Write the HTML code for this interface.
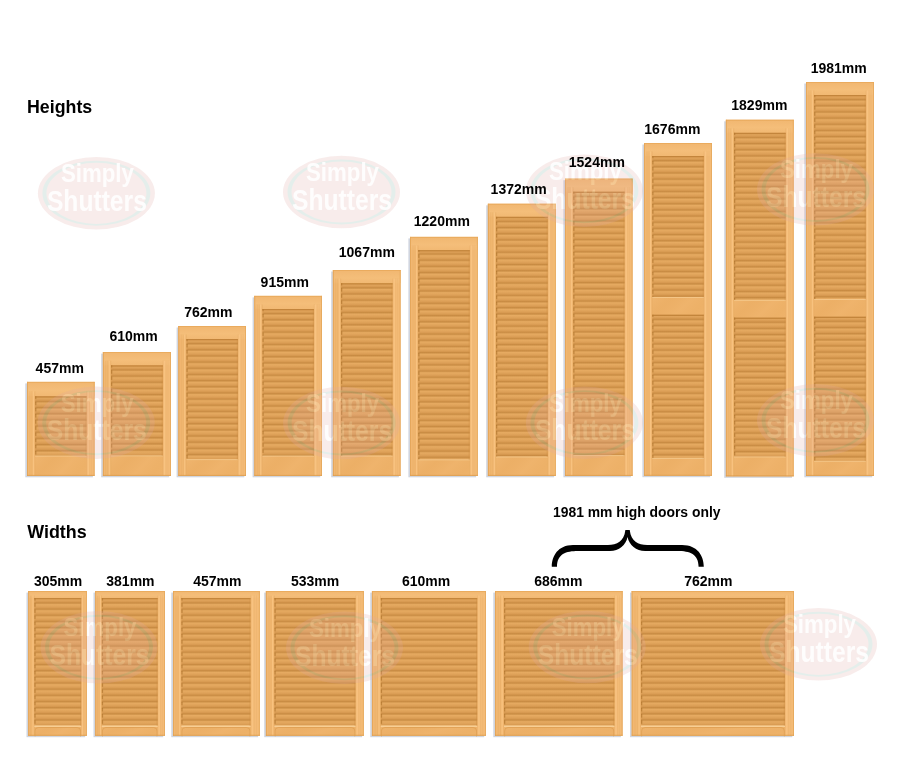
<!DOCTYPE html>
<html><head><meta charset="utf-8"><title>Shutter sizes</title>
<style>
html,body{margin:0;padding:0;background:#fff;}
body{width:902px;height:765px;overflow:hidden;font-family:"Liberation Sans",sans-serif;}
svg{display:block}
text{font-family:"Liberation Sans",sans-serif;font-weight:bold;fill:#000}
.l{font-size:14px}
.t{font-size:17.9px}
.wmt{fill:#fff;font-weight:bold;fill-opacity:0.88}
</style></head><body>
<svg width="902" height="765" viewBox="0 0 902 765">
<defs>
<filter id="bl" x="-10%" y="-10%" width="120%" height="120%"><feGaussianBlur stdDeviation="0.75"/></filter>
<filter id="wb" x="-5%" y="-5%" width="110%" height="110%"><feGaussianBlur stdDeviation="0.45"/></filter>
<linearGradient id="slat" x1="0" y1="0" x2="0" y2="1">
<stop offset="0" stop-color="#bb7e34"/><stop offset="0.1" stop-color="#dfa45c"/><stop offset="0.22" stop-color="#e6aa61"/><stop offset="0.6" stop-color="#dda058"/>
<stop offset="0.84" stop-color="#d3954c"/><stop offset="0.95" stop-color="#c68941"/><stop offset="1" stop-color="#bb7e34"/>
</linearGradient>
<pattern id="lv" x="0" y="-0.5" width="10" height="6.16" patternUnits="userSpaceOnUse"><rect width="10" height="6.16" fill="url(#slat)"/></pattern>
<pattern id="lvn" x="0" y="-0.5" width="10" height="6.16" patternUnits="userSpaceOnUse"><rect y="0" width="10" height="3.4" fill="#9c5f17" opacity="0.5"/></pattern>
<linearGradient id="grain" x1="0" y1="0" x2="1" y2="0.35" spreadMethod="reflect">
<stop offset="0" stop-color="#f0b670" stop-opacity="0.55"/><stop offset="0.35" stop-color="#e5a558" stop-opacity="0.35"/><stop offset="0.7" stop-color="#eeb26a" stop-opacity="0.5"/><stop offset="1" stop-color="#e8aa5e" stop-opacity="0.4"/>
</linearGradient>
<linearGradient id="railT" x1="0" y1="0" x2="0" y2="1">
<stop offset="0" stop-color="#f1b771" stop-opacity="0.9"/><stop offset="0.6" stop-color="#f5bf7b" stop-opacity="0.9"/><stop offset="1" stop-color="#f2ba75" stop-opacity="0.7"/>
</linearGradient>
<g id="wm">
<ellipse cx="0" cy="0" rx="58.5" ry="36.2" fill="#dfa9a4"/>
<path d="M-54,0a54,32.5 0 1 0 108,0a54,32.5 0 1 0 -108,0Z M-50,0a50,30.6 0 1 1 100,0a50,30.6 0 1 1 -100,0Z" fill="#86b3a3" fill-rule="evenodd"/>
<text class="wmt" x="0" y="-11" font-size="25.5" text-anchor="middle" textLength="73" lengthAdjust="spacingAndGlyphs" transform="translate(1,0)">Simply</text>
<text class="wmt" x="0" y="17.7" font-size="29.5" text-anchor="middle" textLength="100" lengthAdjust="spacingAndGlyphs" transform="translate(0.5,0)">Shutters</text>
</g>
</defs>
<rect width="902" height="765" fill="#fff"/>

<rect x="25.30" y="383.40" width="67.60" height="93.90" fill="#d0d5df" filter="url(#bl)"/>
<rect x="27.00" y="381.90" width="67.60" height="93.90" fill="#f0b56e"/>
<rect x="27.00" y="381.90" width="67.60" height="14.40" fill="url(#railT)"/>
<rect x="35.10" y="456.00" width="51.50" height="19.80" fill="url(#grain)"/>
<rect x="29.52" y="391.40" width="0.8" height="84.40" fill="#d89a4e" opacity="0.38"/>
<rect x="91.32" y="391.40" width="0.8" height="84.40" fill="#d89a4e" opacity="0.38"/>
<rect x="31.46" y="391.40" width="0.8" height="84.40" fill="#d89a4e" opacity="0.36"/>
<rect x="89.40" y="391.40" width="0.8" height="84.40" fill="#d89a4e" opacity="0.36"/>
<rect x="32.83" y="391.40" width="1.3" height="84.40" fill="#f9c684" opacity="0.85"/>
<rect x="87.55" y="391.40" width="1.3" height="84.40" fill="#f9c684" opacity="0.85"/>
<rect x="34.51" y="391.40" width="0.7" height="84.40" fill="#dfa257" opacity="0.5"/>
<rect x="86.49" y="391.40" width="0.7" height="84.40" fill="#dfa257" opacity="0.5"/>
<rect x="86.60" y="391.40" width="7.10" height="84.40" fill="#f8c483" opacity="0.45"/>
<rect x="27.90" y="391.40" width="7.20" height="84.40" fill="#f6bf7b" opacity="0.25"/>
<g transform="translate(35.10,402.30)">
<rect x="0" y="-6.00" width="51.50" height="59.70" fill="url(#lv)"/>
<rect x="0" y="-6.00" width="1.3" height="59.70" fill="url(#lvn)"/>
<rect x="0" y="-6.00" width="51.50" height="1.3" fill="#b87a30" opacity="0.75"/>
<rect x="0" y="53.30" width="51.50" height="0.9" fill="#f7cc90" opacity="0.9"/>
<rect x="50.30" y="-6.00" width="1.2" height="59.70" fill="#c98a3e" opacity="0.35"/>
</g>
<rect x="27.00" y="381.90" width="0.9" height="93.90" fill="#e2a355" opacity="0.9"/>
<rect x="93.70" y="381.90" width="0.9" height="93.90" fill="#e6a95c" opacity="0.9"/>
<rect x="27.00" y="381.90" width="67.60" height="0.9" fill="#e8a85a" opacity="0.9"/>
<rect x="27.00" y="474.90" width="67.60" height="0.9" fill="#de9c4a" opacity="0.9"/>
<rect x="101.20" y="353.60" width="68.00" height="123.70" fill="#d0d5df" filter="url(#bl)"/>
<rect x="102.90" y="352.10" width="68.00" height="123.70" fill="#f0b56e"/>
<rect x="102.90" y="352.10" width="68.00" height="13.20" fill="url(#railT)"/>
<rect x="111.00" y="455.80" width="51.90" height="20.00" fill="url(#grain)"/>
<rect x="105.42" y="360.81" width="0.8" height="114.99" fill="#d89a4e" opacity="0.38"/>
<rect x="167.62" y="360.81" width="0.8" height="114.99" fill="#d89a4e" opacity="0.38"/>
<rect x="107.36" y="360.81" width="0.8" height="114.99" fill="#d89a4e" opacity="0.36"/>
<rect x="165.70" y="360.81" width="0.8" height="114.99" fill="#d89a4e" opacity="0.36"/>
<rect x="108.73" y="360.81" width="1.3" height="114.99" fill="#f9c684" opacity="0.85"/>
<rect x="163.85" y="360.81" width="1.3" height="114.99" fill="#f9c684" opacity="0.85"/>
<rect x="110.41" y="360.81" width="0.7" height="114.99" fill="#dfa257" opacity="0.5"/>
<rect x="162.79" y="360.81" width="0.7" height="114.99" fill="#dfa257" opacity="0.5"/>
<rect x="162.90" y="360.81" width="7.10" height="114.99" fill="#f8c483" opacity="0.45"/>
<rect x="103.80" y="360.81" width="7.20" height="114.99" fill="#f6bf7b" opacity="0.25"/>
<g transform="translate(111.00,370.80)">
<rect x="0" y="-5.50" width="51.90" height="90.50" fill="url(#lv)"/>
<rect x="0" y="-5.50" width="1.3" height="90.50" fill="url(#lvn)"/>
<rect x="0" y="-5.50" width="51.90" height="1.3" fill="#b87a30" opacity="0.75"/>
<rect x="0" y="84.60" width="51.90" height="0.9" fill="#f7cc90" opacity="0.9"/>
<rect x="50.70" y="-5.50" width="1.2" height="90.50" fill="#c98a3e" opacity="0.35"/>
</g>
<rect x="102.90" y="352.10" width="0.9" height="123.70" fill="#e2a355" opacity="0.9"/>
<rect x="170.00" y="352.10" width="0.9" height="123.70" fill="#e6a95c" opacity="0.9"/>
<rect x="102.90" y="352.10" width="68.00" height="0.9" fill="#e8a85a" opacity="0.9"/>
<rect x="102.90" y="474.90" width="68.00" height="0.9" fill="#de9c4a" opacity="0.9"/>
<rect x="176.60" y="327.50" width="67.70" height="149.80" fill="#d0d5df" filter="url(#bl)"/>
<rect x="178.30" y="326.00" width="67.70" height="149.80" fill="#f0b56e"/>
<rect x="178.30" y="326.00" width="67.70" height="13.00" fill="url(#railT)"/>
<rect x="186.40" y="459.60" width="51.60" height="16.20" fill="url(#grain)"/>
<rect x="180.82" y="334.58" width="0.8" height="141.22" fill="#d89a4e" opacity="0.38"/>
<rect x="242.72" y="334.58" width="0.8" height="141.22" fill="#d89a4e" opacity="0.38"/>
<rect x="182.76" y="334.58" width="0.8" height="141.22" fill="#d89a4e" opacity="0.36"/>
<rect x="240.80" y="334.58" width="0.8" height="141.22" fill="#d89a4e" opacity="0.36"/>
<rect x="184.13" y="334.58" width="1.3" height="141.22" fill="#f9c684" opacity="0.85"/>
<rect x="238.95" y="334.58" width="1.3" height="141.22" fill="#f9c684" opacity="0.85"/>
<rect x="185.81" y="334.58" width="0.7" height="141.22" fill="#dfa257" opacity="0.5"/>
<rect x="237.89" y="334.58" width="0.7" height="141.22" fill="#dfa257" opacity="0.5"/>
<rect x="238.00" y="334.58" width="7.10" height="141.22" fill="#f8c483" opacity="0.45"/>
<rect x="179.20" y="334.58" width="7.20" height="141.22" fill="#f6bf7b" opacity="0.25"/>
<g transform="translate(186.40,344.50)">
<rect x="0" y="-5.50" width="51.60" height="120.60" fill="url(#lv)"/>
<rect x="0" y="-5.50" width="1.3" height="120.60" fill="url(#lvn)"/>
<rect x="0" y="-5.50" width="51.60" height="1.3" fill="#b87a30" opacity="0.75"/>
<rect x="0" y="114.70" width="51.60" height="0.9" fill="#f7cc90" opacity="0.9"/>
<rect x="50.40" y="-5.50" width="1.2" height="120.60" fill="#c98a3e" opacity="0.35"/>
</g>
<rect x="178.30" y="326.00" width="0.9" height="149.80" fill="#e2a355" opacity="0.9"/>
<rect x="245.10" y="326.00" width="0.9" height="149.80" fill="#e6a95c" opacity="0.9"/>
<rect x="178.30" y="326.00" width="67.70" height="0.9" fill="#e8a85a" opacity="0.9"/>
<rect x="178.30" y="474.90" width="67.70" height="0.9" fill="#de9c4a" opacity="0.9"/>
<rect x="252.60" y="297.40" width="67.70" height="179.90" fill="#d0d5df" filter="url(#bl)"/>
<rect x="254.30" y="295.90" width="67.70" height="179.90" fill="#f0b56e"/>
<rect x="254.30" y="295.90" width="67.70" height="13.10" fill="url(#railT)"/>
<rect x="262.40" y="456.00" width="51.60" height="19.80" fill="url(#grain)"/>
<rect x="256.82" y="304.55" width="0.8" height="171.25" fill="#d89a4e" opacity="0.38"/>
<rect x="318.72" y="304.55" width="0.8" height="171.25" fill="#d89a4e" opacity="0.38"/>
<rect x="258.76" y="304.55" width="0.8" height="171.25" fill="#d89a4e" opacity="0.36"/>
<rect x="316.80" y="304.55" width="0.8" height="171.25" fill="#d89a4e" opacity="0.36"/>
<rect x="260.13" y="304.55" width="1.3" height="171.25" fill="#f9c684" opacity="0.85"/>
<rect x="314.95" y="304.55" width="1.3" height="171.25" fill="#f9c684" opacity="0.85"/>
<rect x="261.81" y="304.55" width="0.7" height="171.25" fill="#dfa257" opacity="0.5"/>
<rect x="313.89" y="304.55" width="0.7" height="171.25" fill="#dfa257" opacity="0.5"/>
<rect x="314.00" y="304.55" width="7.10" height="171.25" fill="#f8c483" opacity="0.45"/>
<rect x="255.20" y="304.55" width="7.20" height="171.25" fill="#f6bf7b" opacity="0.25"/>
<g transform="translate(262.40,314.50)">
<rect x="0" y="-5.50" width="51.60" height="147.00" fill="url(#lv)"/>
<rect x="0" y="-5.50" width="1.3" height="147.00" fill="url(#lvn)"/>
<rect x="0" y="-5.50" width="51.60" height="1.3" fill="#b87a30" opacity="0.75"/>
<rect x="0" y="141.10" width="51.60" height="0.9" fill="#f7cc90" opacity="0.9"/>
<rect x="50.40" y="-5.50" width="1.2" height="147.00" fill="#c98a3e" opacity="0.35"/>
</g>
<rect x="254.30" y="295.90" width="0.9" height="179.90" fill="#e2a355" opacity="0.9"/>
<rect x="321.10" y="295.90" width="0.9" height="179.90" fill="#e6a95c" opacity="0.9"/>
<rect x="254.30" y="295.90" width="67.70" height="0.9" fill="#e8a85a" opacity="0.9"/>
<rect x="254.30" y="474.90" width="67.70" height="0.9" fill="#de9c4a" opacity="0.9"/>
<rect x="331.20" y="271.50" width="67.70" height="205.80" fill="#d0d5df" filter="url(#bl)"/>
<rect x="332.90" y="270.00" width="67.70" height="205.80" fill="#f0b56e"/>
<rect x="332.90" y="270.00" width="67.70" height="13.20" fill="url(#railT)"/>
<rect x="341.00" y="456.00" width="51.60" height="19.80" fill="url(#grain)"/>
<rect x="335.42" y="278.71" width="0.8" height="197.09" fill="#d89a4e" opacity="0.38"/>
<rect x="397.32" y="278.71" width="0.8" height="197.09" fill="#d89a4e" opacity="0.38"/>
<rect x="337.36" y="278.71" width="0.8" height="197.09" fill="#d89a4e" opacity="0.36"/>
<rect x="395.40" y="278.71" width="0.8" height="197.09" fill="#d89a4e" opacity="0.36"/>
<rect x="338.73" y="278.71" width="1.3" height="197.09" fill="#f9c684" opacity="0.85"/>
<rect x="393.55" y="278.71" width="1.3" height="197.09" fill="#f9c684" opacity="0.85"/>
<rect x="340.41" y="278.71" width="0.7" height="197.09" fill="#dfa257" opacity="0.5"/>
<rect x="392.49" y="278.71" width="0.7" height="197.09" fill="#dfa257" opacity="0.5"/>
<rect x="392.60" y="278.71" width="7.10" height="197.09" fill="#f8c483" opacity="0.45"/>
<rect x="333.80" y="278.71" width="7.20" height="197.09" fill="#f6bf7b" opacity="0.25"/>
<g transform="translate(341.00,288.70)">
<rect x="0" y="-5.50" width="51.60" height="172.80" fill="url(#lv)"/>
<rect x="0" y="-5.50" width="1.3" height="172.80" fill="url(#lvn)"/>
<rect x="0" y="-5.50" width="51.60" height="1.3" fill="#b87a30" opacity="0.75"/>
<rect x="0" y="166.90" width="51.60" height="0.9" fill="#f7cc90" opacity="0.9"/>
<rect x="50.40" y="-5.50" width="1.2" height="172.80" fill="#c98a3e" opacity="0.35"/>
</g>
<rect x="332.90" y="270.00" width="0.9" height="205.80" fill="#e2a355" opacity="0.9"/>
<rect x="399.70" y="270.00" width="0.9" height="205.80" fill="#e6a95c" opacity="0.9"/>
<rect x="332.90" y="270.00" width="67.70" height="0.9" fill="#e8a85a" opacity="0.9"/>
<rect x="332.90" y="474.90" width="67.70" height="0.9" fill="#de9c4a" opacity="0.9"/>
<rect x="408.40" y="238.40" width="67.70" height="238.90" fill="#d0d5df" filter="url(#bl)"/>
<rect x="410.10" y="236.90" width="67.70" height="238.90" fill="#f0b56e"/>
<rect x="410.10" y="236.90" width="67.70" height="13.20" fill="url(#railT)"/>
<rect x="418.20" y="459.80" width="51.60" height="16.00" fill="url(#grain)"/>
<rect x="412.62" y="245.61" width="0.8" height="230.19" fill="#d89a4e" opacity="0.38"/>
<rect x="474.52" y="245.61" width="0.8" height="230.19" fill="#d89a4e" opacity="0.38"/>
<rect x="414.56" y="245.61" width="0.8" height="230.19" fill="#d89a4e" opacity="0.36"/>
<rect x="472.60" y="245.61" width="0.8" height="230.19" fill="#d89a4e" opacity="0.36"/>
<rect x="415.93" y="245.61" width="1.3" height="230.19" fill="#f9c684" opacity="0.85"/>
<rect x="470.75" y="245.61" width="1.3" height="230.19" fill="#f9c684" opacity="0.85"/>
<rect x="417.61" y="245.61" width="0.7" height="230.19" fill="#dfa257" opacity="0.5"/>
<rect x="469.69" y="245.61" width="0.7" height="230.19" fill="#dfa257" opacity="0.5"/>
<rect x="469.80" y="245.61" width="7.10" height="230.19" fill="#f8c483" opacity="0.45"/>
<rect x="411.00" y="245.61" width="7.20" height="230.19" fill="#f6bf7b" opacity="0.25"/>
<g transform="translate(418.20,254.90)">
<rect x="0" y="-4.80" width="51.60" height="209.70" fill="url(#lv)"/>
<rect x="0" y="-4.80" width="1.3" height="209.70" fill="url(#lvn)"/>
<rect x="0" y="-4.80" width="51.60" height="1.3" fill="#b87a30" opacity="0.75"/>
<rect x="0" y="204.50" width="51.60" height="0.9" fill="#f7cc90" opacity="0.9"/>
<rect x="50.40" y="-4.80" width="1.2" height="209.70" fill="#c98a3e" opacity="0.35"/>
</g>
<rect x="410.10" y="236.90" width="0.9" height="238.90" fill="#e2a355" opacity="0.9"/>
<rect x="476.90" y="236.90" width="0.9" height="238.90" fill="#e6a95c" opacity="0.9"/>
<rect x="410.10" y="236.90" width="67.70" height="0.9" fill="#e8a85a" opacity="0.9"/>
<rect x="410.10" y="474.90" width="67.70" height="0.9" fill="#de9c4a" opacity="0.9"/>
<rect x="486.20" y="205.30" width="67.90" height="272.00" fill="#d0d5df" filter="url(#bl)"/>
<rect x="487.90" y="203.80" width="67.90" height="272.00" fill="#f0b56e"/>
<rect x="487.90" y="203.80" width="67.90" height="13.00" fill="url(#railT)"/>
<rect x="496.00" y="456.90" width="51.80" height="18.90" fill="url(#grain)"/>
<rect x="490.42" y="212.38" width="0.8" height="263.42" fill="#d89a4e" opacity="0.38"/>
<rect x="552.52" y="212.38" width="0.8" height="263.42" fill="#d89a4e" opacity="0.38"/>
<rect x="492.36" y="212.38" width="0.8" height="263.42" fill="#d89a4e" opacity="0.36"/>
<rect x="550.60" y="212.38" width="0.8" height="263.42" fill="#d89a4e" opacity="0.36"/>
<rect x="493.73" y="212.38" width="1.3" height="263.42" fill="#f9c684" opacity="0.85"/>
<rect x="548.75" y="212.38" width="1.3" height="263.42" fill="#f9c684" opacity="0.85"/>
<rect x="495.41" y="212.38" width="0.7" height="263.42" fill="#dfa257" opacity="0.5"/>
<rect x="547.69" y="212.38" width="0.7" height="263.42" fill="#dfa257" opacity="0.5"/>
<rect x="547.80" y="212.38" width="7.10" height="263.42" fill="#f8c483" opacity="0.45"/>
<rect x="488.80" y="212.38" width="7.20" height="263.42" fill="#f6bf7b" opacity="0.25"/>
<g transform="translate(496.00,222.30)">
<rect x="0" y="-5.50" width="51.80" height="240.10" fill="url(#lv)"/>
<rect x="0" y="-5.50" width="1.3" height="240.10" fill="url(#lvn)"/>
<rect x="0" y="-5.50" width="51.80" height="1.3" fill="#b87a30" opacity="0.75"/>
<rect x="0" y="234.20" width="51.80" height="0.9" fill="#f7cc90" opacity="0.9"/>
<rect x="50.60" y="-5.50" width="1.2" height="240.10" fill="#c98a3e" opacity="0.35"/>
</g>
<rect x="487.90" y="203.80" width="0.9" height="272.00" fill="#e2a355" opacity="0.9"/>
<rect x="554.90" y="203.80" width="0.9" height="272.00" fill="#e6a95c" opacity="0.9"/>
<rect x="487.90" y="203.80" width="67.90" height="0.9" fill="#e8a85a" opacity="0.9"/>
<rect x="487.90" y="474.90" width="67.90" height="0.9" fill="#de9c4a" opacity="0.9"/>
<rect x="563.40" y="180.20" width="67.50" height="297.10" fill="#d0d5df" filter="url(#bl)"/>
<rect x="565.10" y="178.70" width="67.50" height="297.10" fill="#f0b56e"/>
<rect x="565.10" y="178.70" width="67.50" height="13.00" fill="url(#railT)"/>
<rect x="573.20" y="455.60" width="51.40" height="20.20" fill="url(#grain)"/>
<rect x="567.62" y="187.28" width="0.8" height="288.52" fill="#d89a4e" opacity="0.38"/>
<rect x="629.32" y="187.28" width="0.8" height="288.52" fill="#d89a4e" opacity="0.38"/>
<rect x="569.56" y="187.28" width="0.8" height="288.52" fill="#d89a4e" opacity="0.36"/>
<rect x="627.40" y="187.28" width="0.8" height="288.52" fill="#d89a4e" opacity="0.36"/>
<rect x="570.93" y="187.28" width="1.3" height="288.52" fill="#f9c684" opacity="0.85"/>
<rect x="625.55" y="187.28" width="1.3" height="288.52" fill="#f9c684" opacity="0.85"/>
<rect x="572.61" y="187.28" width="0.7" height="288.52" fill="#dfa257" opacity="0.5"/>
<rect x="624.49" y="187.28" width="0.7" height="288.52" fill="#dfa257" opacity="0.5"/>
<rect x="624.60" y="187.28" width="7.10" height="288.52" fill="#f8c483" opacity="0.45"/>
<rect x="566.00" y="187.28" width="7.20" height="288.52" fill="#f6bf7b" opacity="0.25"/>
<g transform="translate(573.20,197.20)">
<rect x="0" y="-5.50" width="51.40" height="263.90" fill="url(#lv)"/>
<rect x="0" y="-5.50" width="1.3" height="263.90" fill="url(#lvn)"/>
<rect x="0" y="-5.50" width="51.40" height="1.3" fill="#b87a30" opacity="0.75"/>
<rect x="0" y="258.00" width="51.40" height="0.9" fill="#f7cc90" opacity="0.9"/>
<rect x="50.20" y="-5.50" width="1.2" height="263.90" fill="#c98a3e" opacity="0.35"/>
</g>
<rect x="565.10" y="178.70" width="0.9" height="297.10" fill="#e2a355" opacity="0.9"/>
<rect x="631.70" y="178.70" width="0.9" height="297.10" fill="#e6a95c" opacity="0.9"/>
<rect x="565.10" y="178.70" width="67.50" height="0.9" fill="#e8a85a" opacity="0.9"/>
<rect x="565.10" y="474.90" width="67.50" height="0.9" fill="#de9c4a" opacity="0.9"/>
<rect x="642.40" y="144.50" width="67.80" height="332.70" fill="#d0d5df" filter="url(#bl)"/>
<rect x="644.10" y="143.00" width="67.80" height="332.70" fill="#f0b56e"/>
<rect x="644.10" y="143.00" width="67.80" height="13.00" fill="url(#railT)"/>
<rect x="652.20" y="458.30" width="51.70" height="17.40" fill="url(#grain)"/>
<rect x="652.20" y="297.40" width="51.70" height="17.30" fill="url(#grain)"/>
<rect x="646.62" y="151.58" width="0.8" height="324.12" fill="#d89a4e" opacity="0.38"/>
<rect x="708.62" y="151.58" width="0.8" height="324.12" fill="#d89a4e" opacity="0.38"/>
<rect x="648.56" y="151.58" width="0.8" height="324.12" fill="#d89a4e" opacity="0.36"/>
<rect x="706.70" y="151.58" width="0.8" height="324.12" fill="#d89a4e" opacity="0.36"/>
<rect x="649.93" y="151.58" width="1.3" height="324.12" fill="#f9c684" opacity="0.85"/>
<rect x="704.85" y="151.58" width="1.3" height="324.12" fill="#f9c684" opacity="0.85"/>
<rect x="651.61" y="151.58" width="0.7" height="324.12" fill="#dfa257" opacity="0.5"/>
<rect x="703.79" y="151.58" width="0.7" height="324.12" fill="#dfa257" opacity="0.5"/>
<rect x="703.90" y="151.58" width="7.10" height="324.12" fill="#f8c483" opacity="0.45"/>
<rect x="645.00" y="151.58" width="7.20" height="324.12" fill="#f6bf7b" opacity="0.25"/>
<g transform="translate(652.20,161.50)">
<rect x="0" y="-5.50" width="51.70" height="141.40" fill="url(#lv)"/>
<rect x="0" y="-5.50" width="1.3" height="141.40" fill="url(#lvn)"/>
<rect x="0" y="-5.50" width="51.70" height="1.3" fill="#b87a30" opacity="0.75"/>
<rect x="0" y="135.50" width="51.70" height="0.9" fill="#f7cc90" opacity="0.9"/>
<rect x="50.50" y="-5.50" width="1.2" height="141.40" fill="#c98a3e" opacity="0.35"/>
</g>
<g transform="translate(652.20,320.20)">
<rect x="0" y="-5.50" width="51.70" height="143.60" fill="url(#lv)"/>
<rect x="0" y="-5.50" width="1.3" height="143.60" fill="url(#lvn)"/>
<rect x="0" y="-5.50" width="51.70" height="1.3" fill="#b87a30" opacity="0.75"/>
<rect x="0" y="137.70" width="51.70" height="0.9" fill="#f7cc90" opacity="0.9"/>
<rect x="50.50" y="-5.50" width="1.2" height="143.60" fill="#c98a3e" opacity="0.35"/>
</g>
<rect x="644.10" y="143.00" width="0.9" height="332.70" fill="#e2a355" opacity="0.9"/>
<rect x="711.00" y="143.00" width="0.9" height="332.70" fill="#e6a95c" opacity="0.9"/>
<rect x="644.10" y="143.00" width="67.80" height="0.9" fill="#e8a85a" opacity="0.9"/>
<rect x="644.10" y="474.80" width="67.80" height="0.9" fill="#de9c4a" opacity="0.9"/>
<rect x="724.20" y="121.30" width="67.80" height="356.50" fill="#d0d5df" filter="url(#bl)"/>
<rect x="725.90" y="119.80" width="67.80" height="356.50" fill="#f0b56e"/>
<rect x="725.90" y="119.80" width="67.80" height="13.00" fill="url(#railT)"/>
<rect x="734.00" y="456.90" width="51.70" height="19.40" fill="url(#grain)"/>
<rect x="734.00" y="300.30" width="51.70" height="17.30" fill="url(#grain)"/>
<rect x="728.42" y="128.38" width="0.8" height="347.92" fill="#d89a4e" opacity="0.38"/>
<rect x="790.42" y="128.38" width="0.8" height="347.92" fill="#d89a4e" opacity="0.38"/>
<rect x="730.36" y="128.38" width="0.8" height="347.92" fill="#d89a4e" opacity="0.36"/>
<rect x="788.50" y="128.38" width="0.8" height="347.92" fill="#d89a4e" opacity="0.36"/>
<rect x="731.73" y="128.38" width="1.3" height="347.92" fill="#f9c684" opacity="0.85"/>
<rect x="786.65" y="128.38" width="1.3" height="347.92" fill="#f9c684" opacity="0.85"/>
<rect x="733.41" y="128.38" width="0.7" height="347.92" fill="#dfa257" opacity="0.5"/>
<rect x="785.59" y="128.38" width="0.7" height="347.92" fill="#dfa257" opacity="0.5"/>
<rect x="785.70" y="128.38" width="7.10" height="347.92" fill="#f8c483" opacity="0.45"/>
<rect x="726.80" y="128.38" width="7.20" height="347.92" fill="#f6bf7b" opacity="0.25"/>
<g transform="translate(734.00,138.30)">
<rect x="0" y="-5.50" width="51.70" height="167.50" fill="url(#lv)"/>
<rect x="0" y="-5.50" width="1.3" height="167.50" fill="url(#lvn)"/>
<rect x="0" y="-5.50" width="51.70" height="1.3" fill="#b87a30" opacity="0.75"/>
<rect x="0" y="161.60" width="51.70" height="0.9" fill="#f7cc90" opacity="0.9"/>
<rect x="50.50" y="-5.50" width="1.2" height="167.50" fill="#c98a3e" opacity="0.35"/>
</g>
<g transform="translate(734.00,323.10)">
<rect x="0" y="-5.50" width="51.70" height="139.30" fill="url(#lv)"/>
<rect x="0" y="-5.50" width="1.3" height="139.30" fill="url(#lvn)"/>
<rect x="0" y="-5.50" width="51.70" height="1.3" fill="#b87a30" opacity="0.75"/>
<rect x="0" y="133.40" width="51.70" height="0.9" fill="#f7cc90" opacity="0.9"/>
<rect x="50.50" y="-5.50" width="1.2" height="139.30" fill="#c98a3e" opacity="0.35"/>
</g>
<rect x="725.90" y="119.80" width="0.9" height="356.50" fill="#e2a355" opacity="0.9"/>
<rect x="792.80" y="119.80" width="0.9" height="356.50" fill="#e6a95c" opacity="0.9"/>
<rect x="725.90" y="119.80" width="67.80" height="0.9" fill="#e8a85a" opacity="0.9"/>
<rect x="725.90" y="475.40" width="67.80" height="0.9" fill="#de9c4a" opacity="0.9"/>
<rect x="804.30" y="83.50" width="67.90" height="393.80" fill="#d0d5df" filter="url(#bl)"/>
<rect x="806.00" y="82.00" width="67.90" height="393.80" fill="#f0b56e"/>
<rect x="806.00" y="82.00" width="67.90" height="13.00" fill="url(#railT)"/>
<rect x="814.10" y="461.20" width="51.80" height="14.60" fill="url(#grain)"/>
<rect x="814.10" y="299.40" width="51.80" height="17.30" fill="url(#grain)"/>
<rect x="808.52" y="90.58" width="0.8" height="385.22" fill="#d89a4e" opacity="0.38"/>
<rect x="870.62" y="90.58" width="0.8" height="385.22" fill="#d89a4e" opacity="0.38"/>
<rect x="810.46" y="90.58" width="0.8" height="385.22" fill="#d89a4e" opacity="0.36"/>
<rect x="868.70" y="90.58" width="0.8" height="385.22" fill="#d89a4e" opacity="0.36"/>
<rect x="811.83" y="90.58" width="1.3" height="385.22" fill="#f9c684" opacity="0.85"/>
<rect x="866.85" y="90.58" width="1.3" height="385.22" fill="#f9c684" opacity="0.85"/>
<rect x="813.51" y="90.58" width="0.7" height="385.22" fill="#dfa257" opacity="0.5"/>
<rect x="865.79" y="90.58" width="0.7" height="385.22" fill="#dfa257" opacity="0.5"/>
<rect x="865.90" y="90.58" width="7.10" height="385.22" fill="#f8c483" opacity="0.45"/>
<rect x="806.90" y="90.58" width="7.20" height="385.22" fill="#f6bf7b" opacity="0.25"/>
<g transform="translate(814.10,100.50)">
<rect x="0" y="-5.50" width="51.80" height="204.40" fill="url(#lv)"/>
<rect x="0" y="-5.50" width="1.3" height="204.40" fill="url(#lvn)"/>
<rect x="0" y="-5.50" width="51.80" height="1.3" fill="#b87a30" opacity="0.75"/>
<rect x="0" y="198.50" width="51.80" height="0.9" fill="#f7cc90" opacity="0.9"/>
<rect x="50.60" y="-5.50" width="1.2" height="204.40" fill="#c98a3e" opacity="0.35"/>
</g>
<g transform="translate(814.10,322.20)">
<rect x="0" y="-5.50" width="51.80" height="144.50" fill="url(#lv)"/>
<rect x="0" y="-5.50" width="1.3" height="144.50" fill="url(#lvn)"/>
<rect x="0" y="-5.50" width="51.80" height="1.3" fill="#b87a30" opacity="0.75"/>
<rect x="0" y="138.60" width="51.80" height="0.9" fill="#f7cc90" opacity="0.9"/>
<rect x="50.60" y="-5.50" width="1.2" height="144.50" fill="#c98a3e" opacity="0.35"/>
</g>
<rect x="806.00" y="82.00" width="0.9" height="393.80" fill="#e2a355" opacity="0.9"/>
<rect x="873.00" y="82.00" width="0.9" height="393.80" fill="#e6a95c" opacity="0.9"/>
<rect x="806.00" y="82.00" width="67.90" height="0.9" fill="#e8a85a" opacity="0.9"/>
<rect x="806.00" y="474.90" width="67.90" height="0.9" fill="#de9c4a" opacity="0.9"/>
<rect x="26.50" y="592.60" width="58.65" height="144.60" fill="#d0d5df" filter="url(#bl)"/>
<rect x="28.20" y="591.10" width="58.65" height="144.60" fill="#f0b56e"/>
<rect x="28.20" y="591.10" width="58.65" height="6.90" fill="url(#railT)"/>
<rect x="34.30" y="725.70" width="46.90" height="10.00" fill="url(#grain)"/>
<rect x="30.00" y="595.65" width="0.8" height="140.05" fill="#d89a4e" opacity="0.38"/>
<rect x="84.42" y="595.65" width="0.8" height="140.05" fill="#d89a4e" opacity="0.38"/>
<rect x="31.46" y="595.65" width="0.8" height="140.05" fill="#d89a4e" opacity="0.36"/>
<rect x="83.06" y="595.65" width="0.8" height="140.05" fill="#d89a4e" opacity="0.36"/>
<rect x="32.43" y="595.65" width="1.3" height="140.05" fill="#f9c684" opacity="0.85"/>
<rect x="81.68" y="595.65" width="1.3" height="140.05" fill="#f9c684" opacity="0.85"/>
<rect x="33.77" y="595.65" width="0.7" height="140.05" fill="#dfa257" opacity="0.5"/>
<rect x="81.02" y="595.65" width="0.7" height="140.05" fill="#dfa257" opacity="0.5"/>
<rect x="81.20" y="595.65" width="4.75" height="140.05" fill="#f8c483" opacity="0.45"/>
<rect x="29.10" y="595.65" width="5.20" height="140.05" fill="#f6bf7b" opacity="0.25"/>
<g transform="translate(34.30,603.80)">
<rect x="0" y="-5.80" width="46.90" height="127.70" fill="url(#lv)"/>
<rect x="0" y="-5.80" width="1.3" height="127.70" fill="url(#lvn)"/>
<rect x="0" y="-5.80" width="46.90" height="1.3" fill="#b87a30" opacity="0.75"/>
<rect x="0" y="121.50" width="46.90" height="0.9" fill="#f7cc90" opacity="0.9"/>
<rect x="45.70" y="-5.80" width="1.2" height="127.70" fill="#c98a3e" opacity="0.35"/>
</g>
<rect x="34.90" y="727.50" width="45.70" height="13.00" rx="3.5" ry="3.5" fill="none" stroke="#d9994c" stroke-width="0.8" opacity="0.75" clip-path="inset(0 0 4.4px 0)"/>
<rect x="34.30" y="726.00" width="46.90" height="0.9" fill="#f9d49c" opacity="0.9"/>
<rect x="28.20" y="591.10" width="0.9" height="144.60" fill="#e2a355" opacity="0.9"/>
<rect x="85.95" y="591.10" width="0.9" height="144.60" fill="#e6a95c" opacity="0.9"/>
<rect x="28.20" y="591.10" width="58.65" height="0.9" fill="#e8a85a" opacity="0.9"/>
<rect x="28.20" y="734.80" width="58.65" height="0.9" fill="#de9c4a" opacity="0.9"/>
<rect x="93.50" y="592.60" width="69.70" height="144.60" fill="#d0d5df" filter="url(#bl)"/>
<rect x="95.20" y="591.10" width="69.70" height="144.60" fill="#f0b56e"/>
<rect x="95.20" y="591.10" width="69.70" height="6.90" fill="url(#railT)"/>
<rect x="101.80" y="725.70" width="55.90" height="10.00" fill="url(#grain)"/>
<rect x="97.18" y="595.65" width="0.8" height="140.05" fill="#d89a4e" opacity="0.38"/>
<rect x="161.91" y="595.65" width="0.8" height="140.05" fill="#d89a4e" opacity="0.38"/>
<rect x="98.76" y="595.65" width="0.8" height="140.05" fill="#d89a4e" opacity="0.36"/>
<rect x="160.18" y="595.65" width="0.8" height="140.05" fill="#d89a4e" opacity="0.36"/>
<rect x="99.83" y="595.65" width="1.3" height="140.05" fill="#f9c684" opacity="0.85"/>
<rect x="158.49" y="595.65" width="1.3" height="140.05" fill="#f9c684" opacity="0.85"/>
<rect x="101.25" y="595.65" width="0.7" height="140.05" fill="#dfa257" opacity="0.5"/>
<rect x="157.57" y="595.65" width="0.7" height="140.05" fill="#dfa257" opacity="0.5"/>
<rect x="157.70" y="595.65" width="6.30" height="140.05" fill="#f8c483" opacity="0.45"/>
<rect x="96.10" y="595.65" width="5.70" height="140.05" fill="#f6bf7b" opacity="0.25"/>
<g transform="translate(101.80,603.80)">
<rect x="0" y="-5.80" width="55.90" height="127.70" fill="url(#lv)"/>
<rect x="0" y="-5.80" width="1.3" height="127.70" fill="url(#lvn)"/>
<rect x="0" y="-5.80" width="55.90" height="1.3" fill="#b87a30" opacity="0.75"/>
<rect x="0" y="121.50" width="55.90" height="0.9" fill="#f7cc90" opacity="0.9"/>
<rect x="54.70" y="-5.80" width="1.2" height="127.70" fill="#c98a3e" opacity="0.35"/>
</g>
<rect x="102.40" y="727.50" width="54.70" height="13.00" rx="3.5" ry="3.5" fill="none" stroke="#d9994c" stroke-width="0.8" opacity="0.75" clip-path="inset(0 0 4.4px 0)"/>
<rect x="101.80" y="726.00" width="55.90" height="0.9" fill="#f9d49c" opacity="0.9"/>
<rect x="95.20" y="591.10" width="0.9" height="144.60" fill="#e2a355" opacity="0.9"/>
<rect x="164.00" y="591.10" width="0.9" height="144.60" fill="#e6a95c" opacity="0.9"/>
<rect x="95.20" y="591.10" width="69.70" height="0.9" fill="#e8a85a" opacity="0.9"/>
<rect x="95.20" y="734.80" width="69.70" height="0.9" fill="#de9c4a" opacity="0.9"/>
<rect x="171.30" y="592.60" width="86.80" height="144.60" fill="#d0d5df" filter="url(#bl)"/>
<rect x="173.00" y="591.10" width="86.80" height="144.60" fill="#f0b56e"/>
<rect x="173.00" y="591.10" width="86.80" height="6.90" fill="url(#railT)"/>
<rect x="181.30" y="725.70" width="69.30" height="10.00" fill="url(#grain)"/>
<rect x="175.59" y="595.65" width="0.8" height="140.05" fill="#d89a4e" opacity="0.38"/>
<rect x="256.09" y="595.65" width="0.8" height="140.05" fill="#d89a4e" opacity="0.38"/>
<rect x="177.58" y="595.65" width="0.8" height="140.05" fill="#d89a4e" opacity="0.36"/>
<rect x="253.88" y="595.65" width="0.8" height="140.05" fill="#d89a4e" opacity="0.36"/>
<rect x="178.99" y="595.65" width="1.3" height="140.05" fill="#f9c684" opacity="0.85"/>
<rect x="251.79" y="595.65" width="1.3" height="140.05" fill="#f9c684" opacity="0.85"/>
<rect x="180.70" y="595.65" width="0.7" height="140.05" fill="#dfa257" opacity="0.5"/>
<rect x="250.53" y="595.65" width="0.7" height="140.05" fill="#dfa257" opacity="0.5"/>
<rect x="250.60" y="595.65" width="8.30" height="140.05" fill="#f8c483" opacity="0.45"/>
<rect x="173.90" y="595.65" width="7.40" height="140.05" fill="#f6bf7b" opacity="0.25"/>
<g transform="translate(181.30,603.80)">
<rect x="0" y="-5.80" width="69.30" height="127.70" fill="url(#lv)"/>
<rect x="0" y="-5.80" width="1.3" height="127.70" fill="url(#lvn)"/>
<rect x="0" y="-5.80" width="69.30" height="1.3" fill="#b87a30" opacity="0.75"/>
<rect x="0" y="121.50" width="69.30" height="0.9" fill="#f7cc90" opacity="0.9"/>
<rect x="68.10" y="-5.80" width="1.2" height="127.70" fill="#c98a3e" opacity="0.35"/>
</g>
<rect x="181.90" y="727.50" width="68.10" height="13.00" rx="3.5" ry="3.5" fill="none" stroke="#d9994c" stroke-width="0.8" opacity="0.75" clip-path="inset(0 0 4.4px 0)"/>
<rect x="181.30" y="726.00" width="69.30" height="0.9" fill="#f9d49c" opacity="0.9"/>
<rect x="173.00" y="591.10" width="0.9" height="144.60" fill="#e2a355" opacity="0.9"/>
<rect x="258.90" y="591.10" width="0.9" height="144.60" fill="#e6a95c" opacity="0.9"/>
<rect x="173.00" y="591.10" width="86.80" height="0.9" fill="#e8a85a" opacity="0.9"/>
<rect x="173.00" y="734.80" width="86.80" height="0.9" fill="#de9c4a" opacity="0.9"/>
<rect x="264.20" y="592.60" width="97.90" height="144.60" fill="#d0d5df" filter="url(#bl)"/>
<rect x="265.90" y="591.10" width="97.90" height="144.60" fill="#f0b56e"/>
<rect x="265.90" y="591.10" width="97.90" height="6.90" fill="url(#railT)"/>
<rect x="274.40" y="725.70" width="81.10" height="10.00" fill="url(#grain)"/>
<rect x="268.56" y="595.65" width="0.8" height="140.05" fill="#d89a4e" opacity="0.38"/>
<rect x="360.41" y="595.65" width="0.8" height="140.05" fill="#d89a4e" opacity="0.38"/>
<rect x="270.60" y="595.65" width="0.8" height="140.05" fill="#d89a4e" opacity="0.36"/>
<rect x="358.42" y="595.65" width="0.8" height="140.05" fill="#d89a4e" opacity="0.36"/>
<rect x="272.05" y="595.65" width="1.3" height="140.05" fill="#f9c684" opacity="0.85"/>
<rect x="356.51" y="595.65" width="1.3" height="140.05" fill="#f9c684" opacity="0.85"/>
<rect x="273.79" y="595.65" width="0.7" height="140.05" fill="#dfa257" opacity="0.5"/>
<rect x="355.40" y="595.65" width="0.7" height="140.05" fill="#dfa257" opacity="0.5"/>
<rect x="355.50" y="595.65" width="7.40" height="140.05" fill="#f8c483" opacity="0.45"/>
<rect x="266.80" y="595.65" width="7.60" height="140.05" fill="#f6bf7b" opacity="0.25"/>
<g transform="translate(274.40,603.80)">
<rect x="0" y="-5.80" width="81.10" height="127.70" fill="url(#lv)"/>
<rect x="0" y="-5.80" width="1.3" height="127.70" fill="url(#lvn)"/>
<rect x="0" y="-5.80" width="81.10" height="1.3" fill="#b87a30" opacity="0.75"/>
<rect x="0" y="121.50" width="81.10" height="0.9" fill="#f7cc90" opacity="0.9"/>
<rect x="79.90" y="-5.80" width="1.2" height="127.70" fill="#c98a3e" opacity="0.35"/>
</g>
<rect x="275.00" y="727.50" width="79.90" height="13.00" rx="3.5" ry="3.5" fill="none" stroke="#d9994c" stroke-width="0.8" opacity="0.75" clip-path="inset(0 0 4.4px 0)"/>
<rect x="274.40" y="726.00" width="81.10" height="0.9" fill="#f9d49c" opacity="0.9"/>
<rect x="265.90" y="591.10" width="0.9" height="144.60" fill="#e2a355" opacity="0.9"/>
<rect x="362.90" y="591.10" width="0.9" height="144.60" fill="#e6a95c" opacity="0.9"/>
<rect x="265.90" y="591.10" width="97.90" height="0.9" fill="#e8a85a" opacity="0.9"/>
<rect x="265.90" y="734.80" width="97.90" height="0.9" fill="#de9c4a" opacity="0.9"/>
<rect x="370.25" y="592.60" width="113.95" height="144.60" fill="#d0d5df" filter="url(#bl)"/>
<rect x="371.95" y="591.10" width="113.95" height="144.60" fill="#f0b56e"/>
<rect x="371.95" y="591.10" width="113.95" height="6.90" fill="url(#railT)"/>
<rect x="380.80" y="725.70" width="96.40" height="10.00" fill="url(#grain)"/>
<rect x="374.74" y="595.65" width="0.8" height="140.05" fill="#d89a4e" opacity="0.38"/>
<rect x="482.37" y="595.65" width="0.8" height="140.05" fill="#d89a4e" opacity="0.38"/>
<rect x="376.86" y="595.65" width="0.8" height="140.05" fill="#d89a4e" opacity="0.36"/>
<rect x="480.28" y="595.65" width="0.8" height="140.05" fill="#d89a4e" opacity="0.36"/>
<rect x="378.38" y="595.65" width="1.3" height="140.05" fill="#f9c684" opacity="0.85"/>
<rect x="478.29" y="595.65" width="1.3" height="140.05" fill="#f9c684" opacity="0.85"/>
<rect x="380.18" y="595.65" width="0.7" height="140.05" fill="#dfa257" opacity="0.5"/>
<rect x="477.11" y="595.65" width="0.7" height="140.05" fill="#dfa257" opacity="0.5"/>
<rect x="477.20" y="595.65" width="7.80" height="140.05" fill="#f8c483" opacity="0.45"/>
<rect x="372.85" y="595.65" width="7.95" height="140.05" fill="#f6bf7b" opacity="0.25"/>
<g transform="translate(380.80,603.80)">
<rect x="0" y="-5.80" width="96.40" height="127.70" fill="url(#lv)"/>
<rect x="0" y="-5.80" width="1.3" height="127.70" fill="url(#lvn)"/>
<rect x="0" y="-5.80" width="96.40" height="1.3" fill="#b87a30" opacity="0.75"/>
<rect x="0" y="121.50" width="96.40" height="0.9" fill="#f7cc90" opacity="0.9"/>
<rect x="95.20" y="-5.80" width="1.2" height="127.70" fill="#c98a3e" opacity="0.35"/>
</g>
<rect x="381.40" y="727.50" width="95.20" height="13.00" rx="3.5" ry="3.5" fill="none" stroke="#d9994c" stroke-width="0.8" opacity="0.75" clip-path="inset(0 0 4.4px 0)"/>
<rect x="380.80" y="726.00" width="96.40" height="0.9" fill="#f9d49c" opacity="0.9"/>
<rect x="371.95" y="591.10" width="0.9" height="144.60" fill="#e2a355" opacity="0.9"/>
<rect x="485.00" y="591.10" width="0.9" height="144.60" fill="#e6a95c" opacity="0.9"/>
<rect x="371.95" y="591.10" width="113.95" height="0.9" fill="#e8a85a" opacity="0.9"/>
<rect x="371.95" y="734.80" width="113.95" height="0.9" fill="#de9c4a" opacity="0.9"/>
<rect x="493.30" y="592.60" width="127.60" height="144.60" fill="#d0d5df" filter="url(#bl)"/>
<rect x="495.00" y="591.10" width="127.60" height="144.60" fill="#f0b56e"/>
<rect x="495.00" y="591.10" width="127.60" height="6.90" fill="url(#railT)"/>
<rect x="504.00" y="725.70" width="110.40" height="10.00" fill="url(#grain)"/>
<rect x="497.84" y="595.65" width="0.8" height="140.05" fill="#d89a4e" opacity="0.38"/>
<rect x="619.25" y="595.65" width="0.8" height="140.05" fill="#d89a4e" opacity="0.38"/>
<rect x="500.00" y="595.65" width="0.8" height="140.05" fill="#d89a4e" opacity="0.36"/>
<rect x="617.28" y="595.65" width="0.8" height="140.05" fill="#d89a4e" opacity="0.36"/>
<rect x="501.55" y="595.65" width="1.3" height="140.05" fill="#f9c684" opacity="0.85"/>
<rect x="615.39" y="595.65" width="1.3" height="140.05" fill="#f9c684" opacity="0.85"/>
<rect x="503.38" y="595.65" width="0.7" height="140.05" fill="#dfa257" opacity="0.5"/>
<rect x="614.30" y="595.65" width="0.7" height="140.05" fill="#dfa257" opacity="0.5"/>
<rect x="614.40" y="595.65" width="7.30" height="140.05" fill="#f8c483" opacity="0.45"/>
<rect x="495.90" y="595.65" width="8.10" height="140.05" fill="#f6bf7b" opacity="0.25"/>
<g transform="translate(504.00,603.80)">
<rect x="0" y="-5.80" width="110.40" height="127.70" fill="url(#lv)"/>
<rect x="0" y="-5.80" width="1.3" height="127.70" fill="url(#lvn)"/>
<rect x="0" y="-5.80" width="110.40" height="1.3" fill="#b87a30" opacity="0.75"/>
<rect x="0" y="121.50" width="110.40" height="0.9" fill="#f7cc90" opacity="0.9"/>
<rect x="109.20" y="-5.80" width="1.2" height="127.70" fill="#c98a3e" opacity="0.35"/>
</g>
<rect x="504.60" y="727.50" width="109.20" height="13.00" rx="3.5" ry="3.5" fill="none" stroke="#d9994c" stroke-width="0.8" opacity="0.75" clip-path="inset(0 0 4.4px 0)"/>
<rect x="504.00" y="726.00" width="110.40" height="0.9" fill="#f9d49c" opacity="0.9"/>
<rect x="495.00" y="591.10" width="0.9" height="144.60" fill="#e2a355" opacity="0.9"/>
<rect x="621.70" y="591.10" width="0.9" height="144.60" fill="#e6a95c" opacity="0.9"/>
<rect x="495.00" y="591.10" width="127.60" height="0.9" fill="#e8a85a" opacity="0.9"/>
<rect x="495.00" y="734.80" width="127.60" height="0.9" fill="#de9c4a" opacity="0.9"/>
<rect x="630.00" y="592.60" width="162.30" height="144.60" fill="#d0d5df" filter="url(#bl)"/>
<rect x="631.70" y="591.10" width="162.30" height="144.60" fill="#f0b56e"/>
<rect x="631.70" y="591.10" width="162.30" height="6.90" fill="url(#railT)"/>
<rect x="641.00" y="725.70" width="144.00" height="10.00" fill="url(#grain)"/>
<rect x="634.65" y="595.65" width="0.8" height="140.05" fill="#d89a4e" opacity="0.38"/>
<rect x="790.36" y="595.65" width="0.8" height="140.05" fill="#d89a4e" opacity="0.38"/>
<rect x="636.88" y="595.65" width="0.8" height="140.05" fill="#d89a4e" opacity="0.36"/>
<rect x="788.20" y="595.65" width="0.8" height="140.05" fill="#d89a4e" opacity="0.36"/>
<rect x="638.49" y="595.65" width="1.3" height="140.05" fill="#f9c684" opacity="0.85"/>
<rect x="786.15" y="595.65" width="1.3" height="140.05" fill="#f9c684" opacity="0.85"/>
<rect x="640.37" y="595.65" width="0.7" height="140.05" fill="#dfa257" opacity="0.5"/>
<rect x="784.92" y="595.65" width="0.7" height="140.05" fill="#dfa257" opacity="0.5"/>
<rect x="785.00" y="595.65" width="8.10" height="140.05" fill="#f8c483" opacity="0.45"/>
<rect x="632.60" y="595.65" width="8.40" height="140.05" fill="#f6bf7b" opacity="0.25"/>
<g transform="translate(641.00,603.80)">
<rect x="0" y="-5.80" width="144.00" height="127.70" fill="url(#lv)"/>
<rect x="0" y="-5.80" width="1.3" height="127.70" fill="url(#lvn)"/>
<rect x="0" y="-5.80" width="144.00" height="1.3" fill="#b87a30" opacity="0.75"/>
<rect x="0" y="121.50" width="144.00" height="0.9" fill="#f7cc90" opacity="0.9"/>
<rect x="142.80" y="-5.80" width="1.2" height="127.70" fill="#c98a3e" opacity="0.35"/>
</g>
<rect x="641.60" y="727.50" width="142.80" height="13.00" rx="3.5" ry="3.5" fill="none" stroke="#d9994c" stroke-width="0.8" opacity="0.75" clip-path="inset(0 0 4.4px 0)"/>
<rect x="641.00" y="726.00" width="144.00" height="0.9" fill="#f9d49c" opacity="0.9"/>
<rect x="631.70" y="591.10" width="0.9" height="144.60" fill="#e2a355" opacity="0.9"/>
<rect x="793.10" y="591.10" width="0.9" height="144.60" fill="#e6a95c" opacity="0.9"/>
<rect x="631.70" y="591.10" width="162.30" height="0.9" fill="#e8a85a" opacity="0.9"/>
<rect x="631.70" y="734.80" width="162.30" height="0.9" fill="#de9c4a" opacity="0.9"/>
<g opacity="0.22" filter="url(#wb)">
<use href="#wm" x="96.4" y="193.3"/>
<use href="#wm" x="341.5" y="192"/>
<use href="#wm" x="584.4" y="190.8"/>
<use href="#wm" x="815.5" y="189.4"/>
<use href="#wm" x="96.2" y="422.7"/>
<use href="#wm" x="341.6" y="423"/>
<use href="#wm" x="584.4" y="422.7"/>
<use href="#wm" x="815.5" y="420.3"/>
<use href="#wm" x="99" y="647.3"/>
<use href="#wm" x="344.5" y="647.8"/>
<use href="#wm" x="587.2" y="647"/>
<use href="#wm" x="818.5" y="644.3"/>
</g>
<text class="t" x="27.0" y="112.9" style="font-size:17.8px">Heights</text>
<text class="t" x="27.2" y="537.9">Widths</text>
<text class="l" x="553" y="516.5" style="font-size:13.9px">1981 mm high doors only</text>
<text class="l" x="35.6" y="373.2">457mm</text>
<text class="l" x="109.5" y="341.1">610mm</text>
<text class="l" x="184.2" y="316.6">762mm</text>
<text class="l" x="260.6" y="287">915mm</text>
<text class="l" x="338.8" y="257.3">1067mm</text>
<text class="l" x="413.8" y="225.6">1220mm</text>
<text class="l" x="490.6" y="193.7">1372mm</text>
<text class="l" x="568.8" y="166.5">1524mm</text>
<text class="l" x="644.3" y="133.7">1676mm</text>
<text class="l" x="731.3" y="110">1829mm</text>
<text class="l" x="810.7" y="73">1981mm</text>
<text class="l" x="34" y="585.5">305mm</text>
<text class="l" x="106.3" y="585.5">381mm</text>
<text class="l" x="193.2" y="585.5">457mm</text>
<text class="l" x="291" y="585.5">533mm</text>
<text class="l" x="402" y="585.5">610mm</text>
<text class="l" x="534.2" y="585.8">686mm</text>
<text class="l" x="684.2" y="585.8">762mm</text>
<path id="brace" d="M551.8 566.8 C551.8 556 558 545 573 545 L607.9 545 C617 545 624 541 625.3 530.5 L625.3 530 L629.8 530 L629.8 530.5 C631.1 541 638.1 545 647.2 545 L682.1 545 C697.6 545 703.8 556 703.8 566.8 L698.6 566.8 C698.6 554 689.6 551 677.6 551 L645.2 551 C636.1 551 629.1 545 627.55 537 C626 545 619 551 609.9 551 L578 551 C566 551 557 554 557 566.8 Z" fill="#000"/>
</svg></body></html>
